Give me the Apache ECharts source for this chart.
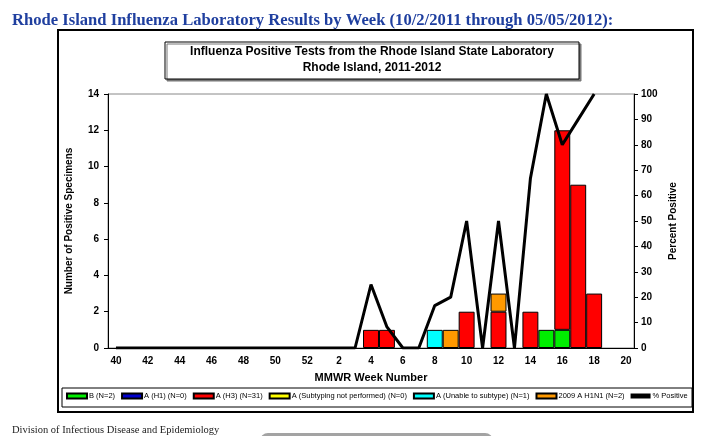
<!DOCTYPE html>
<html>
<head>
<meta charset="utf-8">
<script src="https://cdn.jsdelivr.net/npm/echarts@6/dist/echarts.min.js"></script>
<style>
html,body{margin:0;padding:0;background:#fff;}
#main{width:713px;height:436px;}
</style>
</head>
<body>
<div id="main"></div>
<script>
// MMWR weeks 40..52 then 1..20
var weeks = ['40','41','42','43','44','45','46','47','48','49','50','51','52',
    '1','2','3','4','5','6','7','8','9','10','11','12','13','14','15','16','17','18','19','20'];

//            40 41 42 43 44 45 46 47 48 49 50 51 52  1  2  3  4  5  6  7  8  9 10 11 12 13 14 15 16 17 18 19 20
var fluB    = [0, 0, 0, 0, 0, 0, 0, 0, 0, 0, 0, 0, 0, 0, 0, 0, 0, 0, 0, 0, 0, 0, 0, 0, 0, 0, 0, 1, 1, 0, 0, 0, 0];
var aH1     = [0, 0, 0, 0, 0, 0, 0, 0, 0, 0, 0, 0, 0, 0, 0, 0, 0, 0, 0, 0, 0, 0, 0, 0, 0, 0, 0, 0, 0, 0, 0, 0, 0];
var aH3     = [0, 0, 0, 0, 0, 0, 0, 0, 0, 0, 0, 0, 0, 0, 0, 0, 1, 1, 0, 0, 0, 0, 2, 0, 2, 0, 2, 0,11, 9, 3, 0, 0];
var aNotSub = [0, 0, 0, 0, 0, 0, 0, 0, 0, 0, 0, 0, 0, 0, 0, 0, 0, 0, 0, 0, 0, 0, 0, 0, 0, 0, 0, 0, 0, 0, 0, 0, 0];
var aUnable = [0, 0, 0, 0, 0, 0, 0, 0, 0, 0, 0, 0, 0, 0, 0, 0, 0, 0, 0, 0, 1, 0, 0, 0, 0, 0, 0, 0, 0, 0, 0, 0, 0];
var pdmH1N1 = [0, 0, 0, 0, 0, 0, 0, 0, 0, 0, 0, 0, 0, 0, 0, 0, 0, 0, 0, 0, 0, 1, 0, 0, 1, 0, 0, 0, 0, 0, 0, 0, 0];
var pctPos  = [0, 0, 0, 0, 0, 0, 0, 0, 0, 0, 0, 0, 0, 0, 0, 0,25,8.3,0, 0,16.7,20,50,0,50, 0,66.7,100,80,90,100,null,null];

var leftTicks = [0, 2, 4, 6, 8, 10, 12, 14];
var rightTicks = [0, 10, 20, 30, 40, 50, 60, 70, 80, 90, 100];

function bars(arr){
    return arr.map(function(v){ return v ? v : '-'; });
}

var myChart = echarts.init(document.getElementById('main'));

var barSeries = [
    {name:'B (N=2)', data:fluB, color:'#00ee00'},
    {name:'A (H1) (N=0)', data:aH1, color:'#0000cc'},
    {name:'A (H3) (N=31)', data:aH3, color:'#ff0000'},
    {name:'A (Subtyping not performed) (N=0)', data:aNotSub, color:'#ffff00'},
    {name:'A (Unable to subtype) (N=1)', data:aUnable, color:'#00ffff'},
    {name:'2009 A H1N1 (N=2)', data:pdmH1N1, color:'#ff9900'}
];

var series = [];
for(var i=0;i<barSeries.length;i++){
    series.push({
        name: barSeries[i].name,
        type: 'bar',
        stack: 'total',
        barCategoryGap: 0,
        data: bars(barSeries[i].data),
        itemStyle: {color: barSeries[i].color, borderColor:'#000', borderWidth:1},
        emphasis: {disabled:true}
    });
}
series.push({
    name: '% Positive',
    type: 'line',
    yAxisIndex: 1,
    data: pctPos,
    symbol: 'none',
    lineStyle: {color:'#000', width:3},
    itemStyle: {color:'#000'},
    z: 5
});

var option = {
    animation: false,
    title: [
        {
            text: 'Rhode Island Influenza Laboratory Results by Week (10/2/2011 through 05/05/2012):',
            left: 7, top: 7,
            textStyle: {fontFamily:'Liberation Serif', fontSize:16.6, fontWeight:'bold', color:'#1f3f9f'}
        },
        {
            text: 'Division of Infectious Disease and Epidemiology',
            left: 7, top: 420,
            textStyle: {fontFamily:'Liberation Serif', fontSize:10.5, fontWeight:'normal', color:'#222'}
        }
    ],
    graphic: [
        {type:'rect', shape:{x:58, y:30, width:635, height:382}, style:{fill:'none', stroke:'#000', lineWidth:2}, z:0},
        {type:'rect', shape:{x:165, y:42, width:414, height:37},
            style:{fill:'#fff', stroke:'#000', lineWidth:1, shadowColor:'#777', shadowOffsetX:2, shadowOffsetY:2, shadowBlur:0}},
        {type:'text', x:372, y:52, style:{text:'Influenza Positive Tests from the Rhode Island State Laboratory',
            font:'bold 12px Liberation Sans', fill:'#000', textAlign:'center', textVerticalAlign:'middle'}},
        {type:'text', x:372, y:68, style:{text:'Rhode Island, 2011-2012',
            font:'bold 12px Liberation Sans', fill:'#000', textAlign:'center', textVerticalAlign:'middle'}},
        {type:'rect', shape:{x:62, y:388, width:630, height:19}, style:{fill:'none', stroke:'#000', lineWidth:1}},
        {type:'rect', shape:{x:260, y:433, width:233, height:20, r:8}, style:{fill:'#a3a3a3'}}
    ],
    legend: {
        left: 66, top: 392,
        itemWidth: 20, itemHeight: 5, itemGap: 6,
        padding: 0,
        textStyle: {fontSize:7.5, fontFamily:'Liberation Sans', color:'#000', padding:[0,0,0,-3]},
        data: barSeries.map(function(s){ return {name:s.name, icon:'rect'}; })
            .concat([{name:'% Positive', icon:'rect', itemStyle:{color:'#000', borderWidth:0}}])
    },
    grid: {left:108, right:79, top:94, bottom:88, show:true, borderColor:'#888', borderWidth:1, backgroundColor:'transparent'},
    xAxis: {
        type: 'category',
        data: weeks,
        boundaryGap: true,
        name: 'MMWR Week Number',
        nameLocation: 'middle',
        nameGap: 24,
        nameTextStyle: {fontSize:11, fontWeight:'bold', color:'#000', fontFamily:'Liberation Sans'},
        axisLine: {lineStyle:{color:'#000', width:1}},
        axisTick: {interval:0, length:4, lineStyle:{color:'#000'}},
        axisLabel: {interval:1, fontSize:10, fontWeight:'bold', color:'#000', margin:8, fontFamily:'Liberation Sans'},
        splitLine: {show:false}
    },
    yAxis: [
        {
            type: 'value',
            min: leftTicks[0], max: leftTicks[leftTicks.length-1], interval: 2,
            name: 'Number of Positive Specimens',
            nameLocation: 'middle',
            nameGap: 34,
            nameTextStyle: {fontSize:10, fontWeight:'bold', color:'#000', fontFamily:'Liberation Sans'},
            axisLine: {show:true, lineStyle:{color:'#000'}},
            axisTick: {show:true, length:4, lineStyle:{color:'#000'}},
            axisLabel: {fontSize:10, fontWeight:'bold', color:'#000', margin:9, fontFamily:'Liberation Sans'},
            splitLine: {show:false}
        },
        {
            type: 'value',
            min: rightTicks[0], max: rightTicks[rightTicks.length-1], interval: 10,
            name: 'Percent Positive',
            nameLocation: 'middle',
            nameGap: 34,
            nameRotate: 90,
            nameTextStyle: {fontSize:10, fontWeight:'bold', color:'#000', fontFamily:'Liberation Sans'},
            axisLine: {show:true, lineStyle:{color:'#000'}},
            axisTick: {show:true, length:4, lineStyle:{color:'#000'}},
            axisLabel: {fontSize:10, fontWeight:'bold', color:'#000', margin:7, fontFamily:'Liberation Sans'},
            splitLine: {show:false}
        }
    ],
    series: series
};

myChart.setOption(option, true);
</script>
</body>
</html>
